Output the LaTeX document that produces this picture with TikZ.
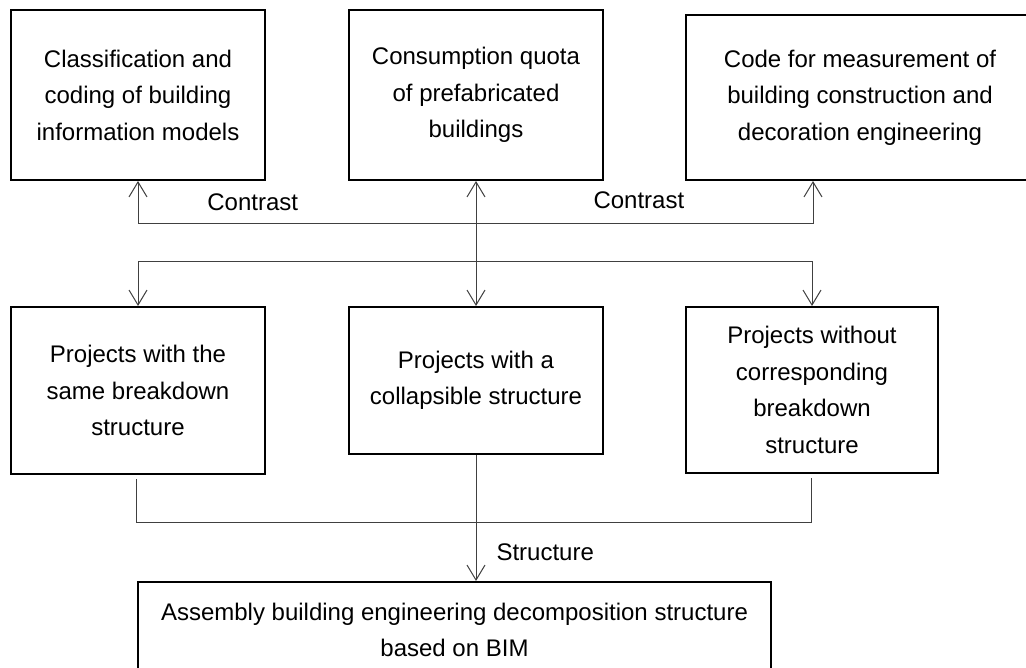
\documentclass[tikz,border=0pt]{standalone}
\usepackage{fontspec}
\setmainfont{Liberation Sans}
\usetikzlibrary{arrows.meta,positioning}
\tikzstyle{block} = [rectangle, draw, line width=2pt, text centered, align=center,
inner sep=0pt, minimum width=254pt, font=\fontsize{24}{36.5}\selectfont]
\tikzstyle{wire} = [draw, line width=1pt, black!75]
\tikzstyle{line} = [wire, -{Straight Barb[length=15pt,width=18pt]}]
\tikzstyle{both} = [wire, {Straight Barb[length=15pt,width=18pt]}-{Straight Barb[length=15pt,width=18pt]}]
\tikzstyle{tag} = [inner sep=0pt, text=black, font=\fontsize{24}{30}\selectfont]

\begin{document}
\begin{tikzpicture}[x=1pt, y=1pt]
\useasboundingbox (0,0) rectangle (1026,-668);
% Place nodes
\node [block, minimum height=170pt] (c1) at (138,-95) {Classification and\\coding of building\\information models};
\node [block, right of=c1, node distance=338pt, minimum height=170pt] (c2) {Consumption quota\\of prefabricated\\buildings};
\node [block, right of=c2, node distance=384pt, yshift=-2.5pt, minimum width=348pt, minimum height=165pt] (c3) {Code for measurement of\\building construction and\\decoration engineering};
\node [block, below of=c1, node distance=295.5pt, minimum height=167pt] (c4) {Projects with the\\same breakdown\\structure};
\node [block, below of=c2, node distance=285.5pt, minimum height=147pt] (c5) {Projects with a\\collapsible structure};
\node [block, right of=c5, node distance=336pt, yshift=-9.5pt, minimum width=252pt, minimum height=166pt] (c6) {Projects without\\corresponding\\breakdown\\structure};
\node [block, below of=c5, node distance=249.5pt, xshift=-21.5pt, minimum width=633pt, minimum height=96pt] (d) {Assembly building engineering decomposition structure\\based on BIM};

% Draw edges
\path [both] (c1.south) -- ++(0,-43) -| node [tag, pos=0.085, above=13pt] {Contrast} node [tag, pos=0.371, above=15pt] {Contrast} ([xshift=-47pt]c3.south);
\path [both] (c2) -- (c5);
\path [both] (c4.north) -- ++(0,44) -| (c6.north);
\path [wire] ([xshift=-2pt,yshift=-4pt]c4.south) -- ++(0,-43) -| ([xshift=-1pt,yshift=-4pt]c6.south);
\path [line] (c5) -- node [tag, pos=0.77, right=20pt] {Structure} (c5 |- d.north);
\end{tikzpicture}
\end{document}
